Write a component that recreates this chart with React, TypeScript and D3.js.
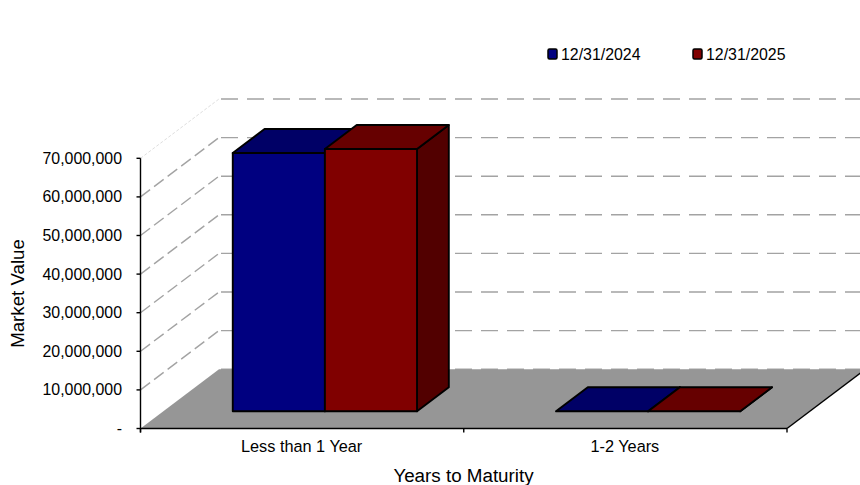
import React from "react";
import * as d3 from "d3";

const categories = ["Less than 1 Year", "1-2 Years"];
const seriesNames = ["12/31/2024", "12/31/2025"];
const values2024 = [66900000, 0];
const values2025 = [67950000, 0];
const yTicks = [0, 10000000, 20000000, 30000000, 40000000, 50000000, 60000000, 70000000];
const yTickLabels = ["-", "10,000,000", "20,000,000", "30,000,000", "40,000,000", "50,000,000", "60,000,000", "70,000,000"];

const FONT = "'Liberation Sans', Arial, sans-serif";
const W = 860, H = 485;
const left = 140.5, right = 787, bottom = 428.5, top = 158.3;
const depthX = 78.5, depthY = 59.3;
const palette = [
  { front: "#000080", top: "#000066", side: "#000050" },
  { front: "#800000", top: "#660000", side: "#520000" },
];

const x = d3.scaleBand<string>().domain(categories).range([left, right]);
const y = d3.scaleLinear().domain([0, 70000000]).range([bottom, top]);
// Depth runs from 0 at the front of the floor to 1 at the back wall.
const px = (xv: number, d: number) => xv + d * depthX;
const py = (v: number, d: number) => y(v) - d * depthY;
const path = (pts: [number, number][]) => d3.line()(pts) + "Z";

const BAR_NEAR = 0.29, BAR_FAR = 0.695;

export default function App() {
  const series = [values2024, values2025];
  const band = x.bandwidth();
  const sub = d3.scaleBand<number>().domain([0, 1]).range([band * 0.215, band * 0.785]);

  return (
    <svg width={W} height={H} style={{ position: "absolute", left: 0, top: 0, background: "#fff" }} fontFamily={FONT}>
      {/* back wall and side wall gridlines */}
      {yTicks.map((t, i) => (
        <g key={t} fill="none" stroke="#a3a3a3" strokeWidth={1.4} strokeDasharray="17 9">
          <line x1={px(left, 1) + 2} x2={W + 10} y1={py(t, 1)} y2={py(t, 1)} />
          {i > 0 && (
            <line
              x1={left} y1={y(t)} x2={px(left, 1)} y2={py(t, 1)}
              stroke={i === yTicks.length - 1 ? "#dedede" : "#a3a3a3"}
              strokeWidth={i === yTicks.length - 1 ? 1 : 1.4}
              strokeDasharray={i === yTicks.length - 1 ? "3 2" : "12 5"}
            />
          )}
        </g>
      ))}

      {/* floor */}
      <path
        d={path([
          [left, bottom],
          [right, bottom],
          [px(right, 1), py(0, 1)],
          [px(left, 1), py(0, 1)],
        ])}
        fill="#969696"
      />

      {/* bars, drawn category by category with the later series in front */}
      {categories.map((c, ci) =>
        series.map((vals, si) => {
          const x0 = x(c)! + sub(si)!;
          const x1 = x0 + sub.bandwidth();
          const v = vals[ci];
          const col = palette[si];
          const stroke = { stroke: "#000", strokeWidth: 1.9, strokeLinejoin: "round" as const };
          return (
            <g key={c + si} {...stroke}>
              <path
                d={path([
                  [px(x1, BAR_NEAR), py(0, BAR_NEAR)],
                  [px(x1, BAR_FAR), py(0, BAR_FAR)],
                  [px(x1, BAR_FAR), py(v, BAR_FAR)],
                  [px(x1, BAR_NEAR), py(v, BAR_NEAR)],
                ])}
                fill={col.side}
              />
              <path
                d={path([
                  [px(x0, BAR_NEAR), py(v, BAR_NEAR)],
                  [px(x1, BAR_NEAR), py(v, BAR_NEAR)],
                  [px(x1, BAR_FAR), py(v, BAR_FAR)],
                  [px(x0, BAR_FAR), py(v, BAR_FAR)],
                ])}
                fill={col.top}
              />
              <rect
                x={px(x0, BAR_NEAR)}
                y={py(v, BAR_NEAR)}
                width={x1 - x0}
                height={py(0, BAR_NEAR) - py(v, BAR_NEAR)}
                fill={col.front}
              />
            </g>
          );
        })
      )}

      {/* axes */}
      <g stroke="#000" strokeWidth={1.4} fill="none">
        <line x1={left} x2={left} y1={top} y2={bottom + 4} />
        <line x1={left} x2={right} y1={bottom} y2={bottom} />
        <line x1={right} y1={bottom} x2={px(right, 1)} y2={py(0, 1)} />
        {yTicks.map((t) => (
          <line key={t} x1={left - 4} x2={left} y1={y(t)} y2={y(t)} />
        ))}
        {[left, left + band, right].map((t) => (
          <line key={t} x1={t} x2={t} y1={bottom} y2={bottom + 4} />
        ))}
      </g>

      <g fill="#000">
        {yTicks.map((t, i) => (
          <text key={t} x={122} y={y(t) + 5.5} textAnchor="end" fontSize={15.9}>
            {yTickLabels[i]}
          </text>
        ))}
        {categories.map((c) => (
          <text key={c} x={x(c)! + band / 2 - 0.5} y={452} textAnchor="middle" fontSize={16.3}>
            {c}
          </text>
        ))}
      </g>

      <text x={463.5} y={482} fontSize={18.8} textAnchor="middle">Years to Maturity</text>
      <text transform="translate(24,293.5) rotate(-90)" fontSize={18.7} textAnchor="middle">Market Value</text>

      {/* legend */}
      {seriesNames.map((n, i) => {
        const lx = 548 + i * 145;
        return (
          <g key={n}>
            <rect x={lx} y={49} width={9} height={10} rx={1.5} fill={palette[i].front} stroke="#000" strokeWidth={1.5} />
            <text x={lx + 13} y={59.5} fontSize={15.9}>{n}</text>
          </g>
        );
      })}
    </svg>
  );
}
